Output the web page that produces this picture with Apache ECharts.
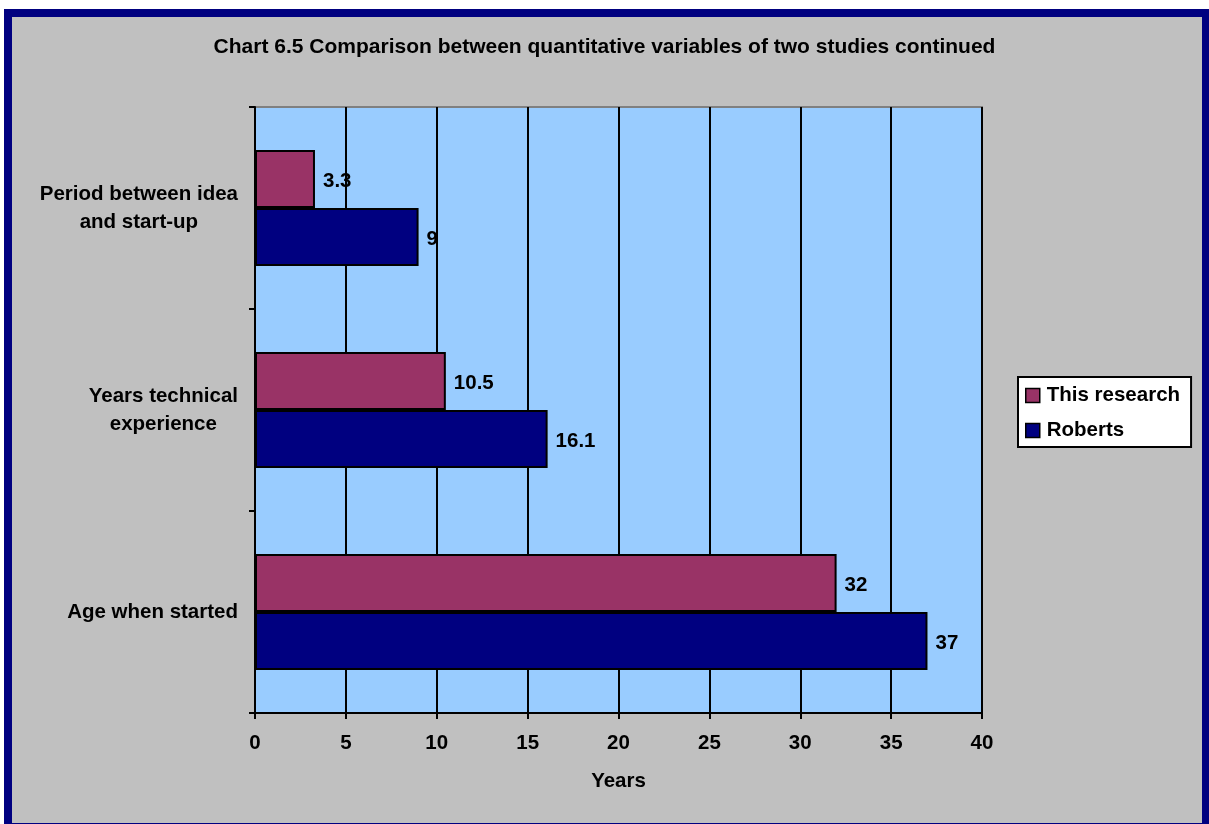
<!DOCTYPE html>
<html>
<head>
<meta charset="utf-8">
<script src="https://cdn.jsdelivr.net/npm/echarts@6/dist/echarts.min.js"></script>
<style>
  html, body { margin: 0; padding: 0; background: #ffffff; }
  #chart { width: 1209px; height: 824px; }
</style>
</head>
<body>
<div id="chart"></div>
<script>
// ---- Data ----
const titleText = 'Chart 6.5 Comparison between quantitative variables of two studies continued';
const categories = ['Age when started', 'Years technical\nexperience', 'Period between idea\nand start-up'];
const seriesNames = ['This research', 'Roberts'];
const thisResearch = [32, 10.5, 3.3];
const roberts = [37, 16.1, 9];
const xAxisName = 'Years';
const xMin = 0, xMax = 40, xInterval = 5;

// ---- Styles ----
const FONT = '"Liberation Sans", Arial, sans-serif';
const txt = { color: '#000', fontFamily: FONT, fontWeight: 'bold', fontSize: 20.5 };

const chart = echarts.init(document.getElementById('chart'), null, { renderer: 'canvas' });

const option = {
  animation: false,
  backgroundColor: '#ffffff',
  graphic: [{
    type: 'rect',
    z: -10,
    silent: true,
    shape: { x: 8, y: 13, width: 1198, height: 814 },
    style: { fill: '#C0C0C0', stroke: '#000080', lineWidth: 8 }
  }],
  title: {
    text: titleText,
    left: 'center',
    top: 37,
    padding: 0,
    textStyle: Object.assign({}, txt, { fontSize: 21 })
  },
  legend: {
    orient: 'vertical',
    left: 1018,
    top: 377,
    data: seriesNames,
    icon: 'rect',
    backgroundColor: '#ffffff',
    borderColor: '#000000',
    borderWidth: 2,
    padding: [8, 11, 6, 7],
    itemWidth: 14,
    itemHeight: 14,
    itemGap: 14,
    textStyle: Object.assign({}, txt, { padding: [0, 0, 0, 2] }),
    itemStyle: { borderColor: '#000', borderWidth: 1.5 }
  },
  grid: {
    left: 255,
    top: 107,
    width: 727,
    height: 606,
    show: true,
    backgroundColor: '#99CCFF',
    borderColor: '#808080',
    borderWidth: 2,
    containLabel: false
  },
  xAxis: {
    type: 'value',
    min: xMin,
    max: xMax,
    interval: xInterval,
    name: xAxisName,
    nameLocation: 'middle',
    nameGap: 58,
    nameTextStyle: txt,
    axisLine: { show: true, lineStyle: { color: '#000', width: 2 } },
    axisTick: { show: true, length: 6, lineStyle: { color: '#000', width: 2 } },
    axisLabel: Object.assign({ margin: 20 }, txt),
    splitLine: { show: true, lineStyle: { color: '#000', width: 2 } }
  },
  yAxis: {
    type: 'category',
    data: categories,
    axisLine: { show: true, lineStyle: { color: '#000', width: 2 } },
    axisTick: { show: true, length: 6, lineStyle: { color: '#000', width: 2 } },
    axisLabel: {
      margin: 17,
      align: 'right',
      formatter: function (v) {
        return v.split('\n').map(function (l) { return '{c|' + l + '}'; }).join('\n');
      },
      rich: {
        c: Object.assign({ align: 'center', lineHeight: 28 }, txt)
      }
    },
    splitLine: { show: false }
  },
  series: [
    {
      name: seriesNames[0],
      type: 'bar',
      data: thisResearch,
      barWidth: 58,
      barGap: '0%',
      itemStyle: { color: '#993366', borderColor: '#000', borderWidth: 2 },
      label: Object.assign({ show: true, position: 'right', distance: 8, offset: [0, 2] }, txt)
    },
    {
      name: seriesNames[1],
      type: 'bar',
      data: roberts,
      barWidth: 58,
      barGap: '0%',
      itemStyle: { color: '#000080', borderColor: '#000', borderWidth: 2 },
      label: Object.assign({ show: true, position: 'right', distance: 8, offset: [0, 2] }, txt)
    }
  ]
};

chart.setOption(option);
</script>
</body>
</html>
